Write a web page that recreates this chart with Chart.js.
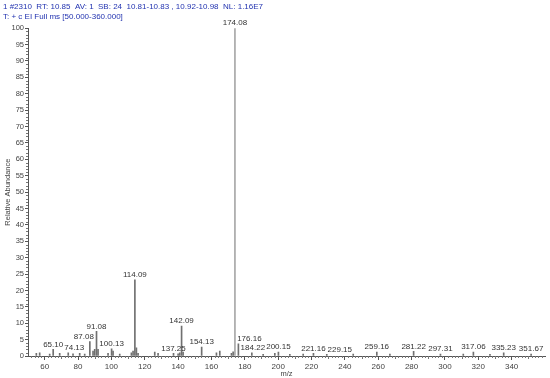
<!DOCTYPE html>
<html>
<head>
<meta charset="utf-8">
<script src="https://cdn.jsdelivr.net/npm/chart.js@4"></script>
<style>
html,body{margin:0;padding:0;background:#fff;}
#wrap{width:550px;height:378px;}
</style>
</head>
<body>
<div id="wrap"><canvas id="c" width="550" height="378"></canvas></div>
<script>
const headerLines = [
  "1 #2310  RT: 10.85  AV: 1  SB: 24  10.81-10.83 , 10.92-10.98  NL: 1.16E7",
  "T: + c EI Full ms [50.000-360.000]"
];
const mz = [55, 57, 63, 65.10, 69, 74.13, 77, 81, 84, 87.08, 89, 90, 91.08, 92, 98, 100.13, 101, 105, 112, 113, 114.09, 115, 116, 126, 128, 137.25, 140, 141, 142.09, 143, 154.13, 163, 165, 172, 173, 174.08, 176.16, 184.22, 191, 198, 200.15, 207, 215, 221.16, 229.15, 245, 259.16, 267, 281.22, 297.31, 311, 317.06, 327, 335.23, 351.67];
const abundance = [0.8, 1.0, 0.6, 2.0, 0.8, 1.0, 0.7, 0.8, 0.6, 4.4, 1.5, 2.0, 7.5, 2.0, 0.8, 2.2, 1.5, 0.6, 1.0, 1.5, 23.2, 2.5, 0.8, 1.2, 0.8, 0.8, 0.7, 1.0, 9.1, 1.2, 2.7, 1.0, 1.5, 0.8, 1.3, 100, 3.7, 1.0, 0.5, 0.8, 1.2, 0.5, 0.6, 0.8, 0.5, 0.6, 1.2, 0.6, 1.4, 0.6, 0.6, 1.2, 0.5, 1.0, 0.6];
const labeledPeaks = [65.10, 74.13, 87.08, 91.08, 100.13, 114.09, 137.25, 142.09, 154.13, 174.08, 176.16, 184.22, 200.15, 221.16, 229.15, 259.16, 281.22, 297.31, 317.06, 335.23, 351.67];
const xTickValues = [60, 80, 100, 120, 140, 160, 180, 200, 220, 240, 260, 280, 300, 320, 340];
const yTickValues = [0, 5, 10, 15, 20, 25, 30, 35, 40, 45, 50, 55, 60, 65, 70, 75, 80, 85, 90, 95, 100];

const FONT = "'Liberation Sans', Arial, sans-serif";

const minorTicks = {
  id: 'minorTicks',
  afterDraw(chart) {
    const ctx = chart.ctx, x = chart.scales.x, y = chart.scales.y, a = chart.chartArea;
    ctx.save();
    ctx.strokeStyle = '#777';
    ctx.lineWidth = 1;
    ctx.beginPath();
    for (let v = 0; v <= 100; v += 1) {
      if (v % 5 === 0) continue;
      const py = Math.round(y.getPixelForValue(v)) + 0.5;
      ctx.moveTo(a.left - 2, py); ctx.lineTo(a.left, py);
    }
    for (let v = 52; v <= 358; v += 2) {
      if (v % 20 === 0) continue;
      const px = Math.round(x.getPixelForValue(v)) + 0.5;
      const len = (v % 10 === 0) ? 3 : 2;
      ctx.moveTo(px, a.bottom); ctx.lineTo(px, a.bottom + len);
    }
    ctx.stroke();
    ctx.restore();
  }
};

// Peak labels placed above each labelled peak; a label is nudged sideways
// when it would overlap another label or cross a taller peak line.
const peakLabels = {
  id: 'peakLabels',
  afterDatasetsDraw(chart) {
    const ctx = chart.ctx, x = chart.scales.x, y = chart.scales.y;
    ctx.save();
    ctx.font = "8px " + FONT;
    ctx.fillStyle = '#333';
    ctx.textAlign = 'center';
    ctx.textBaseline = 'bottom';
    const bars = mz.map((m, i) => ({ px: x.getPixelForValue(m), top: y.getPixelForValue(abundance[i]), i }));
    const order = labeledPeaks.map(p => mz.indexOf(p)).filter(i => i >= 0)
      .sort((a, b) => abundance[b] - abundance[a]);
    const placed = [];
    const collides = (box, self) => {
      for (const b of bars) {
        if (b.i === self) continue;
        if (b.px >= box.l - 2 && b.px <= box.r + 2 && b.top < box.b) return true;
      }
      for (const p of placed) {
        if (box.l < p.r + 1 && box.r > p.l - 1 && box.t < p.b && box.b > p.t) return true;
      }
      return false;
    };
    order.forEach(i => {
      const txt = mz[i].toFixed(2);
      const w = ctx.measureText(txt).width;
      const cx = x.getPixelForValue(mz[i]);
      const by = y.getPixelForValue(abundance[i]) - 1;
      let chosen = null;
      for (let k = 0; k <= 30 && !chosen; k++) {
        for (const dx of (k === 0 ? [0] : [k, -k])) {
          const box = { l: cx + dx - w / 2, r: cx + dx + w / 2, t: by - 7, b: by };
          if (!collides(box, i)) { chosen = box; break; }
        }
      }
      if (!chosen) chosen = { l: cx - w / 2, r: cx + w / 2, t: by - 7, b: by };
      placed.push(chosen);
      ctx.fillText(txt, (chosen.l + chosen.r) / 2, by);
    });
    ctx.restore();
  }
};

new Chart(document.getElementById('c'), {
  type: 'bar',
  data: {
    datasets: [{
      data: mz.map((m, i) => ({ x: m, y: abundance[i] })),
      backgroundColor: mz.map(m => m === 174.08 ? '#a8a8a8' : '#707070'),
      borderWidth: 0,
      barThickness: 1,
      grouped: false
    }]
  },
  options: {
    responsive: false,
    animation: false,
    layout: { padding: { left: 3, right: 5, top: 0, bottom: 0 } },
    plugins: {
      legend: { display: false },
      tooltip: { enabled: false },
      title: {
        display: true,
        text: headerLines,
        align: 'start',
        color: '#2233b0',
        font: { family: FONT, size: 8, weight: 'normal' },
        padding: { top: 2, bottom: 7 },
        lineHeight: 1.25
      }
    },
    scales: {
      x: {
        type: 'linear',
        offset: false,
        min: 50, max: 360,
        afterBuildTicks: s => { s.ticks = xTickValues.map(v => ({ value: v })); },
        afterFit: s => { s.height = 22; },
        ticks: { font: { family: FONT, size: 8 }, color: '#444', padding: 2, maxRotation: 0, autoSkip: false },
        grid: { display: true, drawOnChartArea: false, drawTicks: true, tickLength: 4, color: '#555', offset: false },
        border: { display: true, color: '#555' },
        title: { display: true, text: 'm/z', font: { family: FONT, size: 7.5 }, color: '#444', padding: { top: 0, bottom: 0 } }
      },
      y: {
        min: 0, max: 100,
        afterBuildTicks: s => { s.ticks = yTickValues.map(v => ({ value: v })); },
        afterFit: s => { s.width = 25; },
        ticks: { font: { family: FONT, size: 7.5 }, color: '#444', padding: 1, autoSkip: false },
        grid: { display: true, drawOnChartArea: false, drawTicks: true, tickLength: 3, color: '#555' },
        border: { display: true, color: '#555' },
        title: { display: true, text: 'Relative Abundance', font: { family: FONT, size: 7.5 }, color: '#444', padding: 0 }
      }
    }
  },
  plugins: [minorTicks, peakLabels]
});
</script>
</body>
</html>
